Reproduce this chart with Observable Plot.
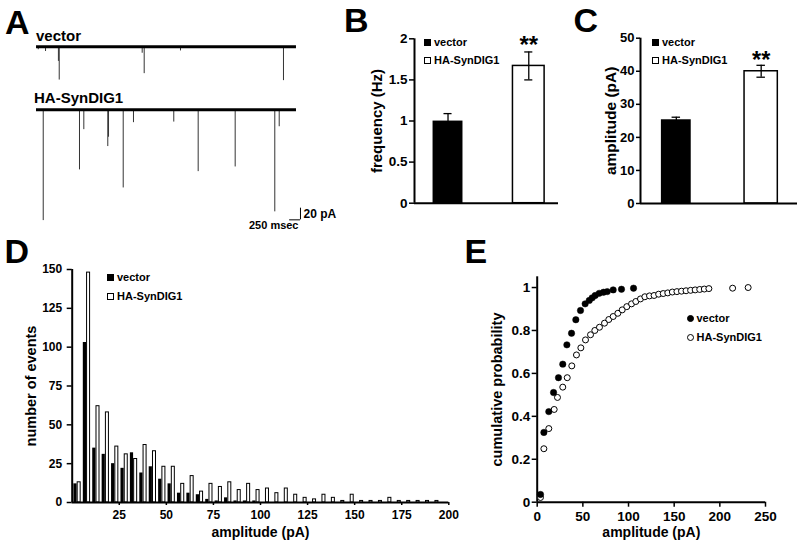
<!DOCTYPE html>
<html><head><meta charset="utf-8">
<script src="https://cdn.jsdelivr.net/npm/d3@7"></script>
<script src="https://cdn.jsdelivr.net/npm/@observablehq/plot@0.6"></script>
<style>
body{margin:0;background:#fff;}
#fig{position:relative;width:800px;height:546px;overflow:hidden;background:#fff;font-family:"Liberation Sans",Arial,sans-serif;font-weight:bold;color:#000;}
.letter{position:absolute;font-size:34px;line-height:34px;}
.tlabel{position:absolute;font-size:15px;line-height:15px;white-space:nowrap;}
.leg{position:absolute;font-size:11px;line-height:11px;height:11px;white-space:nowrap;display:flex;align-items:center;}
.sq{display:inline-block;width:7px;height:7px;box-sizing:border-box;border:1px solid #000;margin-right:3px;}
.ci{display:inline-block;width:7px;height:7px;box-sizing:border-box;border:1px solid #000;border-radius:50%;margin-right:3px;}
</style></head><body><div id="fig"></div><script>
// ---------- data ----------
const groups = ["vector", "HA-SynDIG1"];
const freqMean = [0.99, 1.67];
const freqErr = [0.10, 0.17];
const ampMean = [25.1, 40.0];
const ampErr = [1.0, 1.8];

const histBinStart = [0,5,10,15,20,25,30,35,40,45,50,55,60,65,70,75,80,85,90,95,
  100,105,110,115,120,125,130,135,140,145,150,155,160,165,170,175,180,185,190,195];
const histVector = [12,103,35,31,25,22,32,19,23,15,12,6,6,5,2,1,3,1,1,1,
  0,0,0,0,0,0,0,0,0,0,0,0,0,0,0,0,0,0,0,0];
const histHA = [13,148,62,58,36,31,28,37,33,23,23,12,17,7,12,10,13,8,12,8,
  9,6,9,5,3,2,5,3,1,5,1,1,1,3,1,1,1,1,1,0];

const cdfVectorAmp = [3.6,7.3,12.7,17.9,23.3,28,32.5,37.6,42.3,47.4,52.5,57,60.2,63.5,67.9,72.6,76.7,83.2,92.3,105.5];
const cdfVectorProb = [0.036,0.325,0.422,0.511,0.58,0.643,0.733,0.787,0.85,0.893,0.924,0.94,0.952,0.963,0.973,0.978,0.981,0.989,0.992,0.997];
const cdfHAAmp = [3.6,7.3,12.7,18.6,22.2,28,32.9,37.9,43,47.8,52.9,58.4,63.1,68.2,73.7,78.4,83.2,88.3,93.1,98.1,
  103.3,108,113.1,117.9,123,128,133,138,143,148,153,158,163,168,173,178,183,188,214,231];
const cdfHAProb = [0.022,0.249,0.343,0.432,0.488,0.536,0.58,0.635,0.686,0.719,0.756,0.78,0.80,0.815,0.834,0.851,0.865,0.88,0.896,0.911,
  0.924,0.935,0.947,0.957,0.961,0.963,0.969,0.972,0.975,0.979,0.981,0.983,0.985,0.987,0.989,0.991,0.993,0.995,0.997,1.0];

const traceDuration = 6000; // msec
const traceVectorTimes = [40,208,505,524,2439,2485,3323,5700];
const traceVectorAmps  = [5,8,25,57,11,46,7,58];
const traceHATimes = [155,992,1092,1645,1662,2001,2238,3168,3731,4585,5499,5601];
const traceHAAmps  = [190,103,34,63,47,134,22,21,106,98,175,29];
const scaleBarPA = 20;
const scaleBarMs = 250;

// ---------- helpers ----------
const fig = document.getElementById("fig");
const STYLE = "font-family:'Liberation Sans',Arial,sans-serif;font-weight:bold;overflow:visible;background:transparent;color:black;";
function place(el, left, top) {
  el.style.position = "absolute";
  el.style.left = left + "px";
  el.style.top = top + "px";
  fig.appendChild(el);
}
function html(cls, text, left, top) {
  const d = document.createElement("div");
  d.className = cls; d.textContent = text;
  d.style.left = left + "px"; d.style.top = top + "px";
  fig.appendChild(d);
}
function legendItem(left, top, text, shape, fill) {
  const d = document.createElement("div");
  d.className = "leg"; d.style.left = left + "px"; d.style.top = top + "px";
  const s = document.createElement("span");
  s.className = shape; s.style.background = fill;
  d.appendChild(s);
  d.appendChild(document.createTextNode(text));
  fig.appendChild(d);
}
const fmt = d => String(d);

// ---------- Panel A: traces ----------
const PX_PER_MS = 260 / traceDuration;
const PX_PER_PA = 0.583;
const vecEvents = traceVectorTimes.map((t, i) => ({t, a: traceVectorAmps[i]}));
const haEvents = traceHATimes.map((t, i) => ({t, a: traceHAAmps[i]}));

const vDom = [-62, 4];
const plotAv = Plot.plot({
  width: traceDuration * PX_PER_MS, height: (vDom[1] - vDom[0]) * PX_PER_PA, margin: 0,
  x: {domain: [0, traceDuration], axis: null}, y: {domain: vDom, axis: null},
  style: STYLE,
  marks: [
    Plot.ruleX(vecEvents, {x: "t", y1: 0, y2: d => -d.a, stroke: "#333", strokeWidth: 1}),
    Plot.ruleY([0], {x1: 0, x2: traceDuration, stroke: "black", strokeWidth: 3})
  ]
});
place(plotAv, 36, 46.7 - vDom[1] * PX_PER_PA);

const hDom = [-215, 4];
const xMaxH = 6300;
const sbX = 6092, sbY = -188.7;
const plotAh = Plot.plot({
  width: xMaxH * PX_PER_MS, height: (hDom[1] - hDom[0]) * PX_PER_PA, margin: 0,
  x: {domain: [0, xMaxH], axis: null}, y: {domain: hDom, axis: null},
  style: STYLE,
  marks: [
    Plot.ruleX(haEvents, {x: "t", y1: 0, y2: d => -d.a, stroke: "#333", strokeWidth: 1}),
    Plot.ruleY([0], {x1: 0, x2: traceDuration, stroke: "black", strokeWidth: 3}),
    Plot.ruleX([scaleBarPA], {x: sbX, y1: sbY, y2: d => sbY + d, stroke: "black", strokeWidth: 1}),
    Plot.ruleY([scaleBarMs], {y: sbY, x1: d => sbX - d, x2: sbX, stroke: "black", strokeWidth: 1}),
    Plot.text([scaleBarPA], {x: sbX, y: d => sbY + d / 2, text: d => `${d} pA`, textAnchor: "start", lineAnchor: "middle", dx: 3, fontSize: 12}),
    Plot.text([scaleBarMs], {x: sbX, y: sbY, text: d => `${d} msec`, textAnchor: "end", lineAnchor: "bottom", dx: -2, dy: 9.5, fontSize: 11})
  ]
});
place(plotAh, 36, 109.3 - hDom[1] * PX_PER_PA);

html("tlabel", "vector", 36, 28.3);
html("tlabel", "HA-SynDIG1", 34, 90);

// ---------- Panel B ----------
const bData = groups.map((g, i) => ({g, i: i + 1, m: freqMean[i], e: freqErr[i]}));
const bCaps = bData.flatMap(d => [{i: d.i, y: d.m + d.e}, {i: d.i, y: d.m - d.e}]);
const xB = [0.585, 2.368];
const plotB = Plot.plot({
  width: 225, height: 225, marginLeft: 74, marginRight: 7, marginTop: 38.3, marginBottom: 22.3,
  x: {type: "linear", domain: xB, axis: null},
  y: {domain: [0, 2]},
  style: STYLE,
  marks: [
    Plot.rectY(bData, {filter: d => d.i === 1, x1: d => d.i - 0.176, x2: d => d.i + 0.176, y1: 0, y2: "m", fill: "black", stroke: "black", strokeWidth: 1.5}),
    Plot.rectY(bData, {filter: d => d.i === 2, x1: d => d.i - 0.196, x2: d => d.i + 0.196, y1: 0, y2: "m", fill: "white", stroke: "black", strokeWidth: 1.5}),
    Plot.ruleX(bData, {x: "i", y1: d => d.m - d.e, y2: d => d.m + d.e, stroke: "black", strokeWidth: 1.3}),
    Plot.ruleY(bCaps, {y: "y", x1: d => d.i - 0.05, x2: d => d.i + 0.05, stroke: "black", strokeWidth: 1.3}),
    Plot.text(bData, {filter: d => d.i === 2, x: "i", y: d => d.m + d.e, text: () => "**", lineAnchor: "middle", dy: -6.5, fontSize: 24}),
    Plot.ruleY([0], {x1: xB[0], x2: xB[1], stroke: "black", strokeWidth: 2}),
    Plot.ruleX([xB[0]], {y1: 0, y2: 2, stroke: "black", strokeWidth: 2}),
    Plot.axisY({ticks: [0, 0.5, 1, 1.5, 2], tickFormat: fmt, tickSize: 5, tickPadding: 2, fontSize: 13.5, strokeWidth: 1.5, label: null}),
    Plot.axisY({ticks: [], label: "frequency (Hz)", labelAnchor: "center", labelOffset: 43.5, labelArrow: "none", fontSize: 15})
  ]
});
place(plotB, 340, 0);
legendItem(424, 36.5, "vector", "sq", "black");
legendItem(424, 55.2, "HA-SynDIG1", "sq", "white");

// ---------- Panel C ----------
const cData = groups.map((g, i) => ({g, i: i + 1, m: ampMean[i], e: ampErr[i]}));
const cCaps = cData.flatMap(d => [{i: d.i, y: d.m + d.e}, {i: d.i, y: d.m - d.e}]);
const xC = [0.578, 2.428];
const plotC = Plot.plot({
  width: 240, height: 225, marginLeft: 80, marginRight: 3, marginTop: 37.7, marginBottom: 22,
  x: {type: "linear", domain: xC, axis: null},
  y: {domain: [0, 50]},
  style: STYLE,
  marks: [
    Plot.rectY(cData, {filter: d => d.i === 1, x1: d => d.i - 0.167, x2: d => d.i + 0.167, y1: 0, y2: "m", fill: "black", stroke: "black", strokeWidth: 1.5}),
    Plot.rectY(cData, {filter: d => d.i === 2, x1: d => d.i - 0.196, x2: d => d.i + 0.196, y1: 0, y2: "m", fill: "white", stroke: "black", strokeWidth: 1.5}),
    Plot.ruleX(cData, {x: "i", y1: d => d.m - d.e, y2: d => d.m + d.e, stroke: "black", strokeWidth: 1.3}),
    Plot.ruleY(cCaps, {y: "y", x1: d => d.i - 0.05, x2: d => d.i + 0.05, stroke: "black", strokeWidth: 1.3}),
    Plot.text(cData, {filter: d => d.i === 2, x: "i", y: d => d.m + d.e, text: () => "**", lineAnchor: "middle", dy: -5, fontSize: 23.5}),
    Plot.ruleY([0], {x1: xC[0], x2: xC[1], stroke: "black", strokeWidth: 2}),
    Plot.ruleX([xC[0]], {y1: 0, y2: 50, stroke: "black", strokeWidth: 2}),
    Plot.axisY({ticks: [0, 10, 20, 30, 40, 50], tickFormat: fmt, tickSize: 4, tickPadding: 2, fontSize: 13, strokeWidth: 1.5, label: null}),
    Plot.axisY({ticks: [], label: "amplitude (pA)", labelAnchor: "center", labelOffset: 36, labelArrow: "none", fontSize: 15.5})
  ]
});
place(plotC, 560, 0);
legendItem(652, 36.8, "vector", "sq", "black");
legendItem(652, 55, "HA-SynDIG1", "sq", "white");

// ---------- Panel D ----------
const dVec = histBinStart.map((lo, i) => ({lo, n: histVector[i]})).filter(d => d.n > 0);
const dHA = histBinStart.map((lo, i) => ({lo, n: histHA[i]})).filter(d => d.n > 0);
const plotD = Plot.plot({
  width: 460, height: 306, marginLeft: 71.7, marginRight: 11.7, marginTop: 29, marginBottom: 44,
  x: {domain: [0, 200]}, y: {domain: [0, 150]},
  style: STYLE,
  marks: [
    Plot.rectY(dVec, {x1: d => d.lo + 0.9, x2: d => d.lo + 2.6, y1: 0, y2: "n", fill: "black"}),
    Plot.rectY(dHA, {x1: d => d.lo + 2.9, x2: d => d.lo + 4.5, y1: 0, y2: "n", fill: "white", stroke: "black", strokeWidth: 1}),
    Plot.ruleY([0], {x1: 0, x2: 200, stroke: "black", strokeWidth: 2}),
    Plot.ruleX([0], {y1: 0, y2: 150, stroke: "black", strokeWidth: 2}),
    Plot.axisY({ticks: [0, 25, 50, 75, 100, 125, 150], tickFormat: fmt, tickSize: 5, tickPadding: 5, fontSize: 12, strokeWidth: 1.5, label: null}),
    Plot.axisY({ticks: [], label: "number of events", labelAnchor: "center", labelOffset: 46, labelArrow: "none", fontSize: 14.5}),
    Plot.axisX({ticks: [25, 50, 75, 100, 125, 150, 175, 200], tickFormat: fmt, tickSize: 3, tickPadding: 5, fontSize: 12, strokeWidth: 1.5, label: null}),
    Plot.axisX({ticks: [], label: "amplitude (pA)", labelAnchor: "center", labelOffset: 34.5, labelArrow: "none", fontSize: 14})
  ]
});
place(plotD, 0, 240);
legendItem(107, 272, "vector", "sq", "black");
legendItem(107, 291, "HA-SynDIG1", "sq", "white");

// ---------- Panel E ----------
const eVec = cdfVectorAmp.map((a, i) => ({a, p: cdfVectorProb[i]}));
const eHA = cdfHAAmp.map((a, i) => ({a, p: cdfHAProb[i]}));
const plotE = Plot.plot({
  width: 340, height: 306, marginLeft: 76.7, marginRight: 35, marginTop: 36.3, marginBottom: 44.3,
  x: {domain: [0, 250]}, y: {domain: [0, 1.05]},
  style: STYLE,
  marks: [
    Plot.ruleY([0], {x1: 0, x2: 250, stroke: "black", strokeWidth: 2}),
    Plot.ruleX([0], {y1: 0, y2: 1.05, stroke: "black", strokeWidth: 2}),
    Plot.dot(eHA, {x: "a", y: "p", r: 3, fill: "white", stroke: "black", strokeWidth: 1}),
    Plot.dot(eVec, {x: "a", y: "p", r: 3.2, fill: "black", stroke: "black", strokeWidth: 0.5}),
    Plot.axisY({ticks: [0, 0.2, 0.4, 0.6, 0.8, 1], tickFormat: fmt, tickSize: 5, tickPadding: 2, fontSize: 13.5, strokeWidth: 1.5, label: null}),
    Plot.axisY({ticks: [], label: "cumulative probability", labelAnchor: "center", labelOffset: 45, labelArrow: "none", fontSize: 14.5}),
    Plot.axisX({ticks: [0, 50, 100, 150, 200, 250], tickFormat: fmt, tickSize: 5, tickPadding: 4, fontSize: 13.5, strokeWidth: 1.5, label: null}),
    Plot.axisX({ticks: [], label: "amplitude (pA)", labelAnchor: "center", labelOffset: 35, labelArrow: "none", fontSize: 14})
  ]
});
place(plotE, 460, 240);
legendItem(686.5, 312.5, "vector", "ci", "black");
legendItem(686.5, 331.5, "HA-SynDIG1", "ci", "white");

// ---------- panel letters ----------
html("letter", "A", 5, 4.7);
html("letter", "B", 344, 2.9);
html("letter", "C", 573.6, 3);
html("letter", "D", 4.5, 233.9);
html("letter", "E", 464.5, 233.9);
</script></body></html>
